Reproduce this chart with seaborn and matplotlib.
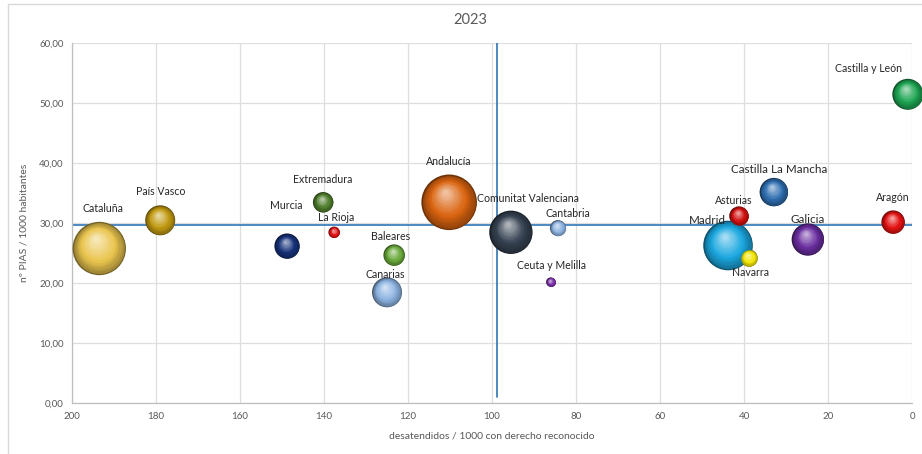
"""
Bubble chart 2023: nº PIAS / 1000 habitantes vs desatendidos / 1000 con derecho reconocido
"""

import numpy as np
import pandas as pd
import matplotlib
matplotlib.use('Agg')
import matplotlib.pyplot as plt
import matplotlib.colors as mcolors
from matplotlib.lines import Line2D
from matplotlib.transforms import offset_copy
from matplotlib.ticker import FuncFormatter, MultipleLocator
import seaborn as sns

# ---------------- data ----------------
regiones = ['Cataluña', 'País Vasco', 'Murcia', 'Extremadura', 'La Rioja', 'Baleares',
            'Canarias', 'Andalucía', 'Comunitat Valenciana', 'Cantabria', 'Ceuta y Melilla',
            'Castilla La Mancha', 'Asturias', 'Madrid', 'Galicia', 'Navarra', 'Aragón',
            'Castilla y León']
desatendidos = [193.5, 179.0, 148.8, 140.2, 137.6, 123.3,
                125.0, 110.2, 95.5, 84.3, 86.0,
                32.9, 41.2, 43.8, 24.8, 38.8, 4.5,
                1.0]
pias = [25.8, 30.5, 26.2, 33.5, 28.5, 24.7,
        18.5, 33.5, 28.5, 29.2, 20.2,
        35.2, 31.2, 26.3, 27.3, 24.2, 30.2,
        51.5]
# bubble size (miles de personas, approx.)
tamano = [285, 90, 64, 42, 13, 46,
          90, 309, 188, 26, 9,
          81, 38, 246, 105, 30, 55,
          96]
media_x = 98.9   # vertical reference line
media_y = 29.7   # horizontal reference line

# ---------------- styles ----------------
colores = {
    'Cataluña': '#EAC54E', 'País Vasco': '#C29A12', 'Murcia': '#17327A',
    'Extremadura': '#4F7D2C', 'La Rioja': '#E01212', 'Baleares': '#6BAA3C',
    'Canarias': '#8DB4E2', 'Andalucía': '#DA6410', 'Comunitat Valenciana': '#364252',
    'Cantabria': '#8DB4E2', 'Ceuta y Melilla': '#7B2FA8', 'Castilla La Mancha': '#2F6EB0',
    'Asturias': '#D21010', 'Madrid': '#1BA8E0', 'Galicia': '#6A2EA0',
    'Navarra': '#F2E600', 'Aragón': '#E31212', 'Castilla y León': '#1EA553',
}
# label offsets in pixels (dx, dy)
etiquetas = {
    'Cataluña': (4, 40), 'País Vasco': (0, 29), 'Murcia': (-1, 41),
    'Extremadura': (0, 23), 'La Rioja': (2, 15), 'Baleares': (-4, 19),
    'Canarias': (-2, 18), 'Andalucía': (0, 41), 'Comunitat Valenciana': (17, 34),
    'Cantabria': (10, 15), 'Ceuta y Melilla': (1, 17), 'Castilla La Mancha': (5, 23),
    'Asturias': (-5, 16), 'Madrid': (-21, 25), 'Galicia': (0, 20),
    'Navarra': (1, -14), 'Aragón': (0, 25), 'Castilla y León': (-39, 26),
}
etiquetas_grandes = ['Castilla La Mancha', 'Madrid', 'Galicia']

df = pd.DataFrame({'region': regiones, 'x': desatendidos, 'y': pias, 'tam': tamano})

sns.set_style('white')
plt.rcParams['font.family'] = ['Lato', 'DejaVu Sans']

W, H = 922, 454
fig = plt.figure(figsize=(W / 100, H / 100), dpi=100)
L, R, T, B = 72, 912, 43.3, 403.3
ax = fig.add_axes([L / W, 1 - B / H, (R - L) / W, (B - T) / H])

K = 5.18
vmax = max(tamano)


def shade(c, k):
    rgb = np.array(mcolors.to_rgb(c))
    return tuple(rgb * k)


def tint(c, k):
    rgb = np.array(mcolors.to_rgb(c))
    return tuple(rgb + (1 - rgb) * k)


dark_pal = {r: shade(c, 0.5) for r, c in colores.items()}

ax.set_axisbelow(True)
ax.grid(True, color='#dedede', linewidth=0.9)

sns.scatterplot(data=df, x='x', y='y', hue='region', size='tam', palette=dark_pal,
                sizes=(0, K * vmax), size_norm=(0, vmax), linewidth=0, legend=False,
                ax=ax, zorder=3, clip_on=False)

ax.plot([media_x, media_x], [1, 60], color='#2E75B6', linewidth=1.2, zorder=2)
ax.plot([200, 0], [media_y, media_y], color='#2E75B6', linewidth=1.2, zorder=2)

# 3D-ish shading layers on every bubble
order = np.argsort(tamano)[::-1]
n_layers = 16
for z, i in enumerate(order):
    reg = regiones[i]
    base = colores[reg]
    s_full = K * tamano[i]
    r_pt = np.sqrt(s_full) / 2
    for j, t in enumerate(np.linspace(0, 1, n_layers)):
        f = 0.95 - 0.85 * t
        if t < 0.35:
            col = tuple(np.array(shade(base, 0.7)) * (1 - t / 0.35) + np.array(mcolors.to_rgb(base)) * (t / 0.35))
        else:
            col = tint(base, 0.6 * (t - 0.35) / 0.65)
        dx = -(1 - f) * r_pt * 0.15
        dy = (1 - f) * r_pt * 0.4
        tr = offset_copy(ax.transData, fig=fig, x=dx, y=dy, units='points')
        ax.scatter([desatendidos[i]], [pias[i]], s=s_full * f ** 2, color=col,
                   linewidths=0, transform=tr, zorder=3 + z * 0.01 + j * 0.0005,
                   clip_on=False)

for i, reg in enumerate(regiones):
    dx, dy = etiquetas[reg]
    fs = 8.4 if reg in etiquetas_grandes else 7.6
    ax.annotate(reg, (desatendidos[i], pias[i]), xytext=(dx, dy), textcoords='offset pixels',
                ha='center', va='center', fontsize=fs, color='#262626', zorder=10)

ax.set_xlim(200, 0)
ax.set_ylim(0, 60)
ax.xaxis.set_major_locator(MultipleLocator(20))
ax.yaxis.set_major_locator(MultipleLocator(10))
ax.yaxis.set_major_formatter(FuncFormatter(lambda v, p: f'{v:.2f}'.replace('.', ',')))
ax.tick_params(axis='both', length=0, labelsize=7, labelcolor='#595959', pad=6)

for side in ['top', 'right']:
    ax.spines[side].set_visible(False)
for side in ['left', 'bottom']:
    ax.spines[side].set_color('#bfbfbf')
    ax.spines[side].set_linewidth(0.9)

ax.set_xlabel('desatendidos / 1000 con derecho reconocido', fontsize=7.5, color='#595959', labelpad=8)
ax.set_ylabel('nº PIAS / 1000 habitantes', fontsize=7.5, color='#595959', labelpad=8)
fig.text(470 / W, 1 - 20 / H, '2023', ha='center', va='center', fontsize=10.5, color='#595959')

# outer chart border
fig.add_artist(Line2D([7.5 / W, 7.5 / W], [0, 1 - 4 / H], transform=fig.transFigure,
                      color='#d9d9d9', linewidth=1))
fig.add_artist(Line2D([7.5 / W, 1], [1 - 4 / H, 1 - 4 / H], transform=fig.transFigure,
                      color='#d9d9d9', linewidth=1))

fig.savefig('out.png', dpi=100)
